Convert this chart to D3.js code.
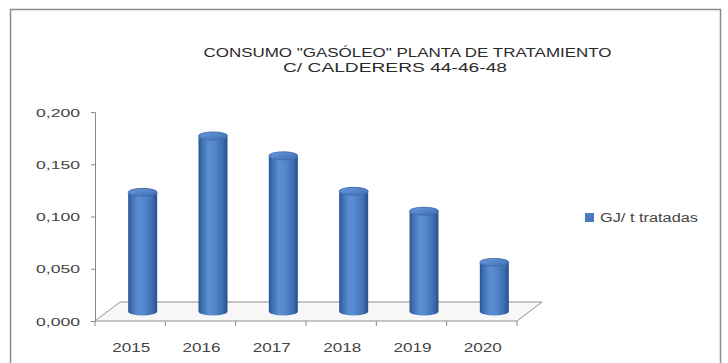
<!DOCTYPE html>
<html>
<head>
<meta charset="utf-8">
<script src="https://cdn.jsdelivr.net/npm/d3@7"></script>
<style>
  html, body { margin: 0; padding: 0; background: #ffffff; }
  svg { display: block; }
</style>
</head>
<body>
<svg id="chart" width="728" height="363"></svg>
<script>
// Consumo de gasóleo por tonelada tratada, por año
const years = ["2015", "2016", "2017", "2018", "2019", "2020"];
const values = [0.114, 0.168, 0.149, 0.115, 0.096, 0.047];
const yTicks = [0, 0.05, 0.1, 0.15, 0.2];
const titleLines = ["CONSUMO \"GASÓLEO\" PLANTA DE TRATAMIENTO", "C/ CALDERERS 44-46-48"];
const seriesName = "GJ/ t tratadas";

const svg = d3.select("#chart");

// outer chart frame
svg.append("rect")
  .attr("x", 10.5).attr("y", 9.5)
  .attr("width", 710).attr("height", 370)
  .attr("fill", "#ffffff")
  .attr("stroke", "#8c8c8c").attr("stroke-width", 1.5);

// front plane of the 3D plot area
const x0 = 95, x1 = 517;
const depth = { dx: 25, dy: -19 };

const x = d3.scaleBand().domain(years).range([x0, x1]).paddingInner(0).paddingOuter(0);
const y = d3.scaleLinear().domain([0, 0.2]).range([321, 112]);

const fmt = v => d3.format(".3f")(v).replace(".", ",");
const labelFont = "'Liberation Sans', Arial, sans-serif";

// floor
const floorPts = [
  [x0, y(0)], [x1, y(0)],
  [x1 + depth.dx, y(0) + depth.dy], [x0 + depth.dx, y(0) + depth.dy]
];
svg.append("polygon")
  .attr("points", floorPts.map(p => p.join(",")).join(" "))
  .attr("fill", "#f7f7f7")
  .attr("stroke", "#8f8f8f").attr("stroke-width", 1);

// value axis
const yAxis = d3.axisLeft(y).tickValues(yTicks).tickSize(4).tickFormat(fmt);
const gy = svg.append("g").attr("transform", `translate(${x0},0)`).call(yAxis);
gy.select(".domain").attr("stroke", "#8a8a8a");
gy.selectAll(".tick line").attr("stroke", "#8a8a8a");
gy.selectAll(".tick text")
  .attr("x", -15)
  .attr("dy", "0.36em")
  .attr("fill", "#444444")
  .style("font-family", labelFont)
  .style("font-size", "11.5px")
  .attr("textLength", 44)
  .attr("lengthAdjust", "spacingAndGlyphs");

// category axis (front edge of the floor)
const gx = svg.append("g").attr("transform", `translate(0,${y(0)})`);
const bounds = years.map((d, i) => x0 + i * x.bandwidth()).concat([x1]);
gx.selectAll("line.tick")
  .data(bounds)
  .join("line")
  .attr("class", "tick")
  .attr("x1", d => d).attr("x2", d => d)
  .attr("y1", 0).attr("y2", 5)
  .attr("stroke", "#8a8a8a");
gx.selectAll("text")
  .data(years)
  .join("text")
  .attr("x", d => x(d) + x.bandwidth() / 2 + 1)
  .attr("y", 31)
  .attr("text-anchor", "middle")
  .attr("fill", "#444444")
  .style("font-family", labelFont)
  .style("font-size", "13.5px")
  .attr("textLength", 38)
  .attr("lengthAdjust", "spacingAndGlyphs")
  .text(d => d);

// cylinder shading
const defs = svg.append("defs");
const grad = defs.append("linearGradient").attr("id", "cyl")
  .attr("x1", "0%").attr("x2", "100%").attr("y1", "0%").attr("y2", "0%");
[["0%", "#2a5593"], ["12%", "#3f6fb3"], ["35%", "#5b8fd4"], ["55%", "#5587cd"],
 ["82%", "#3f70b4"], ["100%", "#274f8a"]].forEach(([o, c]) =>
  grad.append("stop").attr("offset", o).attr("stop-color", c));
const topGrad = defs.append("linearGradient").attr("id", "cylTop")
  .attr("x1", "0%").attr("x2", "100%").attr("y1", "0%").attr("y2", "100%");
[["0%", "#6b9be0"], ["100%", "#3d6cb0"]].forEach(([o, c]) =>
  topGrad.append("stop").attr("offset", o).attr("stop-color", c));

// bars sit halfway into the depth of the plot
const mid = { dx: depth.dx / 2, dy: depth.dy / 2 };
const barW = 29, rx = barW / 2, ry = 4;

const bars = svg.append("g");
years.forEach((yr, i) => {
  const cx = x(yr) + x.bandwidth() / 2 + mid.dx;
  const yTop = y(values[i]) + mid.dy;
  const yBot = y(0) + mid.dy;
  const body = `M${cx - rx},${yTop} L${cx - rx},${yBot} A${rx},${ry} 0 0 0 ${cx + rx},${yBot} ` +
               `L${cx + rx},${yTop} A${rx},${ry} 0 0 1 ${cx - rx},${yTop} Z`;
  bars.append("path").attr("d", body).attr("fill", "url(#cyl)");
  bars.append("ellipse")
    .attr("cx", cx).attr("cy", yTop)
    .attr("rx", rx).attr("ry", ry)
    .attr("fill", "url(#cylTop)")
    .attr("stroke", "#345f9e").attr("stroke-width", 0.8);
});

// title
const title = svg.append("g")
  .style("font-family", labelFont)
  .style("font-size", "12.5px")
  .attr("fill", "#2a2a2a");
title.append("text")
  .attr("x", 407.5).attr("y", 57)
  .attr("text-anchor", "middle")
  .attr("textLength", 408).attr("lengthAdjust", "spacingAndGlyphs")
  .text(titleLines[0]);
title.append("text")
  .attr("x", 395).attr("y", 72)
  .attr("text-anchor", "middle")
  .attr("textLength", 224).attr("lengthAdjust", "spacingAndGlyphs")
  .text(titleLines[1]);

// legend
const legend = svg.append("g");
legend.append("rect")
  .attr("x", 585).attr("y", 213)
  .attr("width", 9).attr("height", 9)
  .attr("fill", "#4a7bbf");
legend.append("text")
  .attr("x", 600).attr("y", 222)
  .attr("fill", "#444444")
  .style("font-family", labelFont)
  .style("font-size", "12.5px")
  .attr("textLength", 98).attr("lengthAdjust", "spacingAndGlyphs")
  .text(seriesName);
</script>
</body>
</html>
